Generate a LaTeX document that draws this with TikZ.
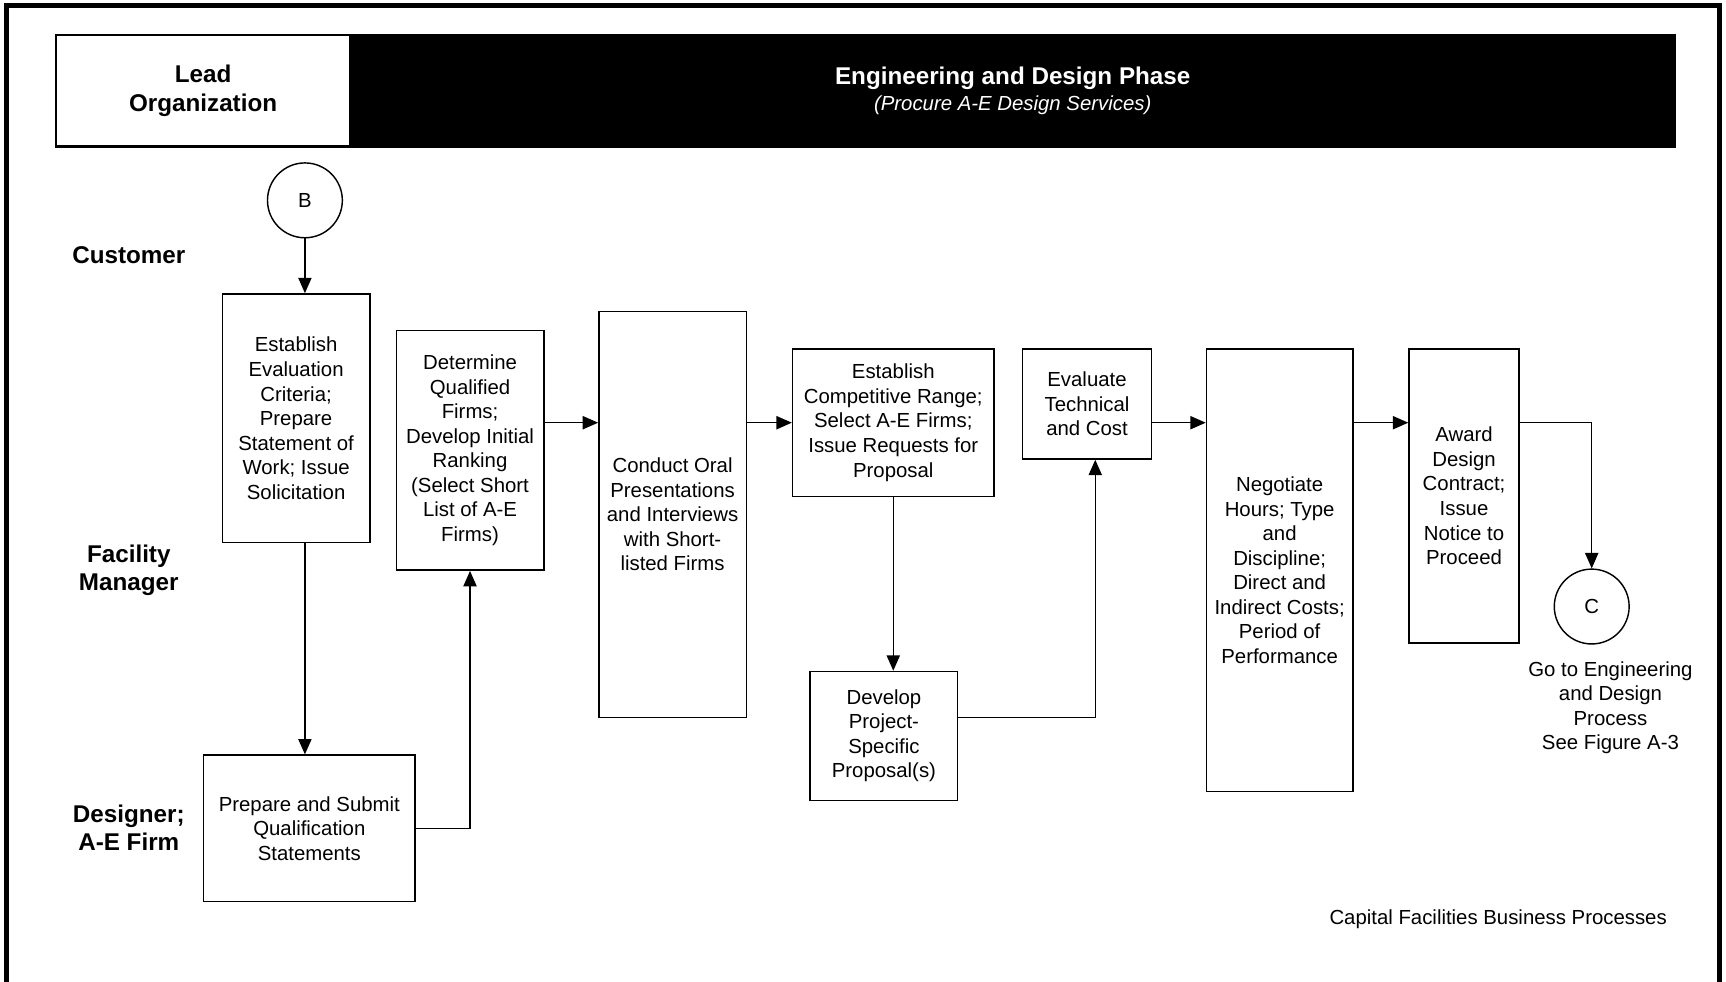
\documentclass[tikz,border=0pt]{standalone}
\usepackage{fontspec}
\setmainfont{Liberation Sans}
\usetikzlibrary{arrows.meta}

\begin{document}
\begin{tikzpicture}[x=1pt,y=-1pt,
    box/.style={draw, line width=1.3pt, inner sep=0pt, align=center,
        font=\fontsize{18.5}{22.3}\selectfont},
    conn/.style={draw, circle, line width=1.3pt, minimum size=68pt, inner sep=0pt,
        font=\fontsize{18.5}{22.3}\selectfont},
    lane/.style={align=center, font=\fontsize{22}{26}\selectfont\bfseries},
    flow/.style={line width=1.3pt, -{Triangle[length=14pt,width=12pt]}}]
        \useasboundingbox (0,0) rectangle (1568,892);

        % Marco
        \draw[line width=4pt] (6,892) -- (6,5) -- (1562,5) -- (1562,892);

        % Encabezado
        \node[box, minimum width=267pt, minimum height=101pt, line width=2pt,
            font=\fontsize{22}{26}\selectfont\bfseries] (lead) at (184.5,82.5) {Lead\\Organization};
        \node[fill=black, draw, line width=2pt, minimum width=1204pt, minimum height=101pt,
            inner sep=0pt, text=white, align=center] (phase) at (920,82.5)
            {{\fontsize{22}{26}\selectfont\bfseries Engineering and Design Phase}\\[5pt]
             {\fontsize{18.5}{22}\selectfont\itshape (Procure A-E Design Services)}};

        % Carriles
        \node[lane] (cust) at (117,232) {Customer};
        \node[lane] (fm) at (117,518) {Facility\\Manager};
        \node[lane] (ae) at (117,752) {Designer;\\A-E Firm};

        % Cajas
        \node[conn] (B) at (277,182) {B};
        \node[box, minimum width=134pt, minimum height=226pt] (est) at (269,380)
            {Establish\\Evaluation\\Criteria;\\Prepare\\Statement of\\Work; Issue\\Solicitation};
        \node[box, minimum width=192pt, minimum height=133pt] (sub) at (281,752.5)
            {Prepare and Submit\\Qualification\\Statements};
        \node[box, minimum width=134pt, minimum height=218pt] (det) at (427,409)
            {Determine\\Qualified\\Firms;\\Develop Initial\\Ranking\\(Select Short\\List of A-E\\Firms)};
        \node[box, minimum width=134pt, minimum height=369pt] (oral) at (611,467.5)
            {Conduct Oral\\Presentations\\and Interviews\\with Short-\\listed Firms};
        \node[box, minimum width=183pt, minimum height=134pt] (comp) at (811.5,384)
            {Establish\\Competitive Range;\\Select A-E Firms;\\Issue Requests for\\Proposal};
        \node[box, minimum width=134pt, minimum height=117pt] (prop) at (803,668.5)
            {Develop\\Project-\\Specific\\Proposal(s)};
        \node[box, minimum width=117pt, minimum height=100pt] (eval) at (987.5,367)
            {Evaluate\\Technical\\and Cost};
        \node[box, minimum width=133pt, minimum height=402pt] (neg) at (1162.5,518)
            {Negotiate\\Hours; Type\\and\\Discipline;\\Direct and\\Indirect Costs;\\Period of\\Performance};
        \node[box, minimum width=100pt, minimum height=267pt] (award) at (1330,450.5)
            {Award\\Design\\Contract;\\Issue\\Notice to\\Proceed};
        \node[conn] (C) at (1446,551) {C};
        \node[align=center, font=\fontsize{18.5}{22.3}\selectfont] (goto) at (1463,643)
            {Go to Engineering\\and Design\\Process\\See Figure A-3};
        \node[font=\fontsize{18.5}{22.3}\selectfont] (cap) at (1361,835)
            {Capital Facilities Business Processes};

        % Flechas
        \coordinate (tr) at (995,652);
        \draw[flow] (B.south) -- (B.south |- est.north);
        \draw[flow] (est.south -| B) -- (sub.north -| B);
        \draw[flow] (sub.east) -- (sub.east -| det.south) -- (det.south);
        \draw[flow] (det.east |- comp.west) -- (oral.west |- comp.west);
        \draw[flow] (oral.east |- comp.west) -- (comp.west);
        \draw[flow] (comp.south) -- (comp.south |- prop.north);
        \draw[flow] (prop.east |- tr) -- (tr) -- (tr |- eval.south);
        \draw[flow] (eval.east |- comp.west) -- (neg.west |- comp.west);
        \draw[flow] (neg.east |- comp.west) -- (award.west |- comp.west);
        \draw[flow] (award.east |- comp.west) -- (C.north |- comp.west) -- (C.north);
    \end{tikzpicture}
\end{document}
